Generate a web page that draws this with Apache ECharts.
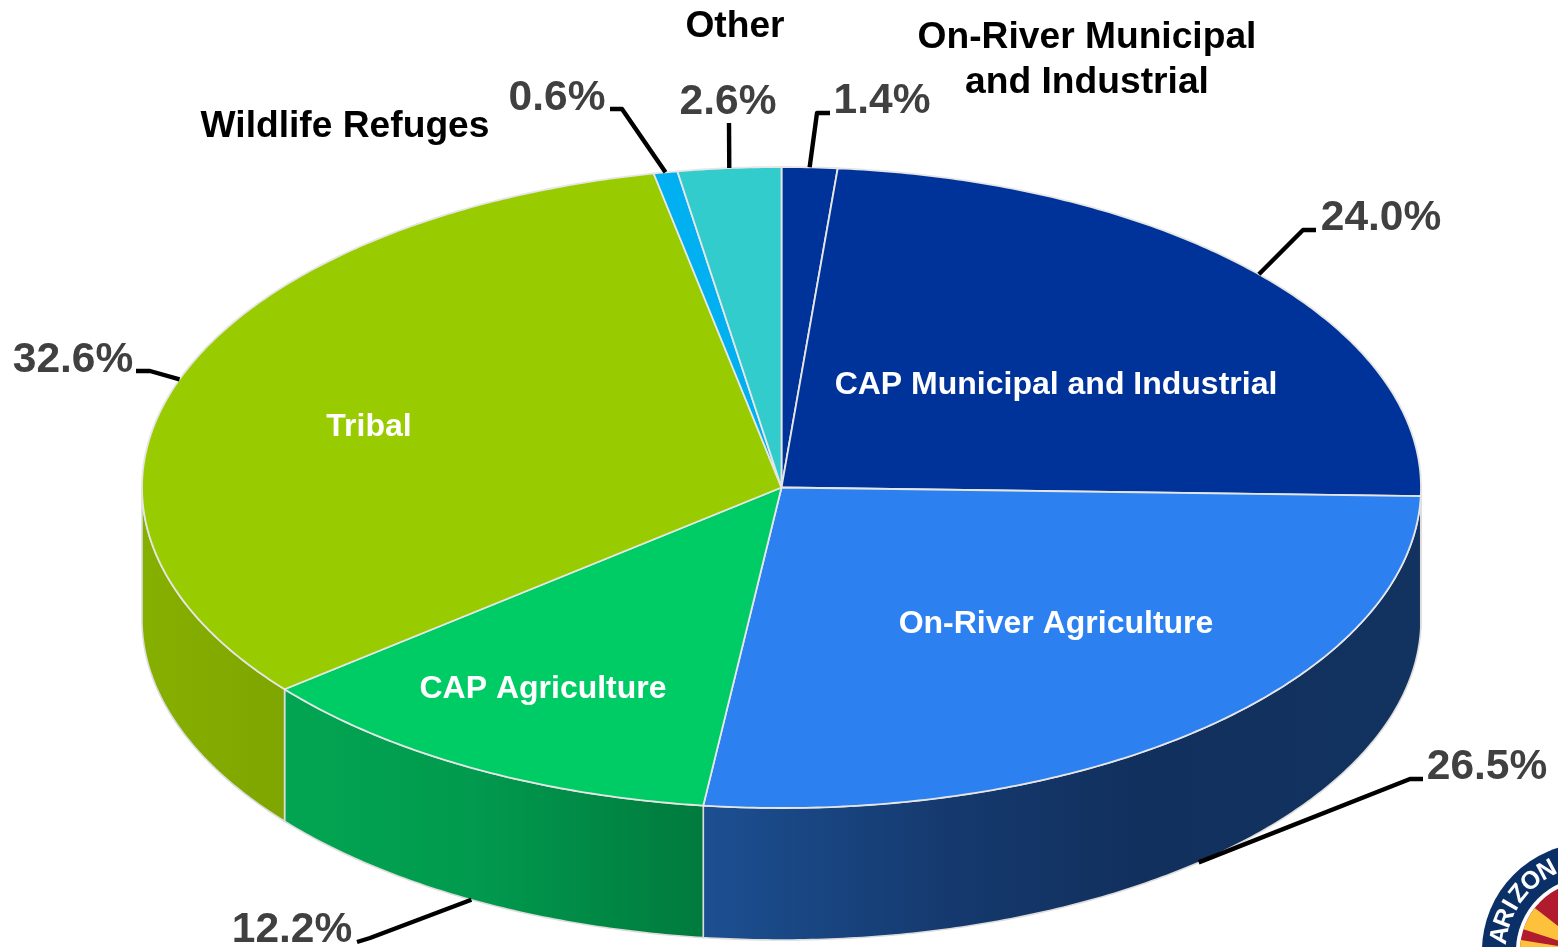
<!DOCTYPE html>
<html>
<head>
<meta charset="utf-8">
<style>html,body{margin:0;padding:0;background:#fff}#c{width:1558px;height:947px}</style>
<script src="https://cdn.jsdelivr.net/npm/echarts@6/dist/echarts.min.js"></script>
</head>
<body>
<div id="c"></div>
<script>
// ---- data ----
const categories = ['On-River Municipal and Industrial','CAP Municipal and Industrial','On-River Agriculture','CAP Agriculture','Tribal','Wildlife Refuges','Other'];
const shares = [1.4, 24.0, 26.5, 12.2, 32.6, 0.6, 2.6];
const valueLabels = ['1.4%','24.0%','26.5%','12.2%','32.6%','0.6%','2.6%'];

// ---- styles and layout ----
const topColors = ['#003399','#003399','#2c80f0','#00cc66','#99cc00','#00b0f0','#33cccc'];
const sideStops = [
  ['#002a80','#002a80'], ['#12315f','#12315f'],
  ['#1c4f91','#15396e 35%','#11305e 60%','#12325f'],
  ['#02a552','#019a4e 45%','#007a3d'],
  ['#86b000','#7fa500'], ['#008fc4','#008fc4'], ['#28a8a8','#28a8a8']
];
const CX = 781.5, CY = 487.5, RX = 639.5, RY = 320.5, DEPTH = 132;
const EDGE = '#dcdcdc';
const nameFont = 'bold 37.2px "Liberation Sans", Arial, sans-serif';
const innerFont = 'bold 32px "Liberation Sans", Arial, sans-serif';
const valueFont = 'bold 42.5px "Liberation Sans", Arial, sans-serif';
// label centre, leader waypoints from label toward the slice
const valuePos = [[882,101],[1381,218],[1487,767],[292,930],[73,360],[557,98],[728,102]];
const leaderWay = [
  [[830,113],[817,113]], [[1316,230],[1303,230]], [[1423,779],[1410,779]],
  [[357,942],[370,938]], [[136,371],[150,371]], [[610,109],[622,109]], [[729,123]]
];
const leaderOnSide = [false,false,true,true,false,false,false];
const namePos = [
  {x:1087,y:60,fill:'#000',font:nameFont,text:'On-River Municipal\nand Industrial'},
  {x:1056,y:385,fill:'#fff',font:innerFont},
  {x:1056,y:624,fill:'#fff',font:innerFont},
  {x:543,y:689,fill:'#fff',font:innerFont},
  {x:369,y:427,fill:'#fff',font:innerFont},
  {x:345,y:127,fill:'#000',font:nameFont},
  {x:735,y:27,fill:'#000',font:nameFont}
];

// ---- geometry derived from the values ----
const total = shares.reduce((a, b) => a + b, 0);
const startAt = []; { let acc = 0; shares.forEach(v => { startAt.push(acc / total * Math.PI * 2); acc += v; }); }
const endOf = i => startAt[i] + shares[i] / total * Math.PI * 2;
const pt = (t, dy) => [CX + RX * Math.sin(t), CY - RY * Math.cos(t) + (dy || 0)];
function arc(a, b, dy) {
  const n = Math.max(2, Math.ceil((b - a) / 0.01)), out = [];
  for (let k = 0; k <= n; k++) out.push(pt(a + (b - a) * k / n, dy));
  return out;
}
function gradient(list) {
  return { type:'linear', x:0, y:0, x2:1, y2:0, global:false,
    colorStops: list.map((s, i) => {
      const m = s.split(' ');
      return { color:m[0], offset: m[1] ? parseFloat(m[1]) / 100 : i / (list.length - 1) };
    }) };
}

function renderSide(params) {
  const i = params.dataIndex;
  const a = Math.max(startAt[i], Math.PI / 2), b = Math.min(endOf(i), Math.PI * 1.5);
  if (b <= a) return { type:'group', children:[] };
  const upper = arc(a, b, 0), lower = arc(a, b, DEPTH).reverse();
  return { type:'polygon', shape:{ points: upper.concat(lower) },
    style:{ fill: gradient(sideStops[i]), stroke:EDGE, lineWidth:1.6 } };
}
function renderTop(params) {
  const i = params.dataIndex;
  return { type:'polygon', shape:{ points: [[CX, CY]].concat(arc(startAt[i], endOf(i), 0)) },
    style:{ fill: topColors[i], stroke:'#e6e6e6', lineWidth:1.8, lineJoin:'round' } };
}
function renderLabel(params) {
  const i = params.dataIndex;
  const mid = (startAt[i] + endOf(i)) / 2;
  const anchor = pt(mid, leaderOnSide[i] ? DEPTH : 0);
  const n = namePos[i];
  return { type:'group', children:[
    { type:'polyline', shape:{ points: leaderWay[i].concat([anchor]) },
      style:{ stroke:'#000', lineWidth:4.4, fill:null, lineJoin:'round' } },
    { type:'text', style:{ text: valueLabels[i], x: valuePos[i][0], y: valuePos[i][1],
      font: valueFont, fill:'#404040', align:'center', verticalAlign:'middle' } },
    { type:'text', style:{ text: n.text || categories[i], x:n.x, y:n.y, font:n.font, fill:n.fill,
      align:'center', verticalAlign:'middle', lineHeight:45 } }
  ]};
}

// ---- partial state seal in the corner ----
const SX = 1590, SY = 951;
const rayA = d => Math.PI + d * Math.PI / 180;
const sealText = [['A',10],['R',21],['I',30],['Z',39],['O',50],['N',62]];
const seal = [
  { type:'circle', shape:{cx:SX,cy:SY,r:108}, style:{fill:'#0b3068'} },
  { type:'circle', shape:{cx:SX,cy:SY,r:74}, style:{fill:'#fff'} },
  { type:'circle', shape:{cx:SX,cy:SY,r:70}, style:{fill:'#b01c2e'} },
  { type:'sector', shape:{cx:SX,cy:SY,r:70,r0:0,startAngle:rayA(18),endAngle:rayA(38)}, style:{fill:'#fdc13c'} },
  { type:'sector', shape:{cx:SX,cy:SY,r:70,r0:0,startAngle:rayA(-6),endAngle:rayA(9)}, style:{fill:'#fdc13c'} }
].concat(sealText.map(([ch, d]) => {
  const a = d * Math.PI / 180;
  return { type:'text', x: SX - 91 * Math.cos(a), y: SY - 91 * Math.sin(a),
    rotation: Math.PI / 2 - a,
    style:{ text:ch, font:'bold 25px "Liberation Sans", Arial, sans-serif', fill:'#fff', align:'center', verticalAlign:'middle' } };
}));

const dataRows = shares.map((v, i) => ({ name: categories[i], value: v }));
const chart = echarts.init(document.getElementById('c'), null, { renderer:'canvas' });
chart.setOption({
  animation:false,
  backgroundColor:'#fff',
  graphic: seal,
  series:[
    { type:'custom', coordinateSystem:'none', renderItem:renderSide, data:dataRows, silent:true, z:1 },
    { type:'custom', coordinateSystem:'none', renderItem:renderTop, data:dataRows, silent:true, z:2 },
    { type:'custom', coordinateSystem:'none', renderItem:renderLabel, data:dataRows, silent:true, z:3 }
  ]
});
</script>
</body>
</html>
